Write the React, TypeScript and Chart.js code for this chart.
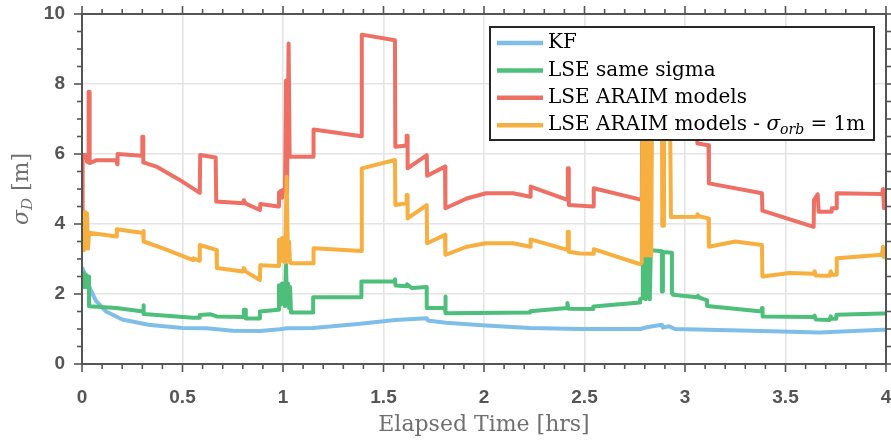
import React, { useEffect, useRef } from 'react';
import { Chart, registerables } from 'chart.js';

Chart.register(...registerables);

// ---- data (elapsed time [hrs], sigma_D [m]) ----
const xTicks = [0, 0.5, 1, 1.5, 2, 2.5, 3, 3.5, 4];
const yTicks = [0, 2, 4, 6, 8, 10];
const seriesNames = ['KF', 'LSE same sigma', 'LSE ARAIM models', 'LSE ARAIM models - '];
const seriesColors = ['#80BEEA', '#4DBF7B', '#EE6F64', '#F7AF40'];

const kf: [number, number][] = [
  [0, 2.76], [0.02, 2.5], [0.04, 2.15], [0.07, 1.8], [0.12, 1.5], [0.2, 1.27], [0.33, 1.12],
  [0.5, 1.03], [0.62, 1.02], [0.75, 0.95], [0.885, 0.94], [0.985, 0.99], [1.02, 1.02],
  [1.15, 1.03], [1.385, 1.15], [1.557, 1.26], [1.715, 1.31], [1.72, 1.24], [1.81, 1.18],
  [2.01, 1.1], [2.23, 1.03], [2.48, 1.0], [2.777, 1.0], [2.81, 1.05], [2.885, 1.12],
  [2.89, 1.04], [2.92, 1.08], [2.95, 1.0], [3.383, 0.94], [3.67, 0.9], [3.98, 0.98], [4.0, 0.98],
];

const lseSame: [number, number][] = [
  [0, 2.5], [0.005, 2.2], [0.01, 2.6], [0.015, 2.2], [0.02, 2.55], [0.025, 2.2], [0.03, 2.5],
  [0.035, 2.5], [0.035, 1.65], [0.171, 1.6], [0.304, 1.5], [0.304, 1.68], [0.308, 1.68],
  [0.308, 1.43], [0.553, 1.32], [0.586, 1.32], [0.586, 1.4], [0.64, 1.42], [0.67, 1.36],
  [0.8, 1.34], [0.805, 1.34], [0.805, 1.55], [0.815, 1.55], [0.815, 1.3], [0.885, 1.3],
  [0.885, 1.5], [0.976, 1.55], [0.98, 1.55], [0.98, 2.25], [0.99, 1.7], [0.995, 2.3],
  [1.0, 1.75], [1.005, 2.3], [1.01, 1.65], [1.015, 2.85], [1.02, 1.7], [1.025, 2.3],
  [1.03, 1.6], [1.035, 2.2], [1.04, 1.47], [1.15, 1.47], [1.15, 1.91], [1.39, 1.91],
  [1.39, 2.36], [1.555, 2.36], [1.557, 2.42], [1.56, 2.24], [1.615, 2.22], [1.617, 2.28],
  [1.64, 2.17], [1.715, 2.2], [1.715, 1.6], [1.806, 1.6], [1.806, 1.93], [1.81, 1.93],
  [1.81, 1.45], [2.23, 1.47], [2.23, 1.51], [2.415, 1.6], [2.415, 1.74], [2.42, 1.58],
  [2.544, 1.57], [2.544, 1.64], [2.777, 1.76], [2.777, 1.86], [2.79, 1.88], [2.79, 3.3],
  [2.795, 1.9], [2.8, 3.3], [2.805, 1.85], [2.81, 3.3], [2.815, 1.9], [2.82, 3.3],
  [2.825, 1.85], [2.83, 3.3], [2.835, 3.25], [2.885, 3.22], [2.885, 2.07], [2.89, 2.07],
  [2.89, 3.2], [2.935, 3.18], [2.935, 2.02], [2.94, 2.02], [2.94, 1.98], [3.06, 1.91],
  [3.065, 1.95], [3.07, 1.9], [3.11, 1.82], [3.11, 1.66], [3.383, 1.5], [3.383, 1.6],
  [3.386, 1.6], [3.386, 1.36], [3.64, 1.34], [3.645, 1.38], [3.65, 1.27], [3.72, 1.26],
  [3.725, 1.36], [3.73, 1.29], [3.753, 1.29], [3.753, 1.41], [3.98, 1.44], [4.0, 1.44],
];

const lseAraim: [number, number][] = [
  [0, 4.3], [0.003, 5.97], [0.02, 5.97], [0.025, 5.78], [0.033, 5.76], [0.033, 7.78],
  [0.038, 7.78], [0.038, 5.74], [0.07, 5.82], [0.17, 5.83], [0.175, 5.71], [0.177, 6.0],
  [0.296, 5.95], [0.3, 5.95], [0.3, 6.49], [0.305, 6.49], [0.305, 5.76], [0.37, 5.64],
  [0.486, 5.26], [0.586, 4.89], [0.588, 5.97], [0.665, 5.9], [0.668, 4.64], [0.8, 4.59],
  [0.805, 4.68], [0.815, 4.58], [0.885, 4.4], [0.887, 4.57], [0.976, 4.5], [0.98, 4.9],
  [0.99, 4.95], [0.995, 4.75], [1.0, 4.97], [1.01, 4.9], [1.015, 8.1], [1.02, 4.9],
  [1.028, 9.16], [1.033, 5.92], [1.15, 5.92], [1.152, 6.7], [1.39, 6.51], [1.392, 9.41],
  [1.557, 9.25], [1.559, 6.21], [1.615, 6.24], [1.615, 6.52], [1.62, 6.52], [1.62, 5.59],
  [1.715, 5.97], [1.717, 5.38], [1.806, 5.64], [1.808, 4.45], [1.914, 4.73], [2.01, 4.88],
  [2.145, 4.88], [2.23, 4.78], [2.232, 5.07], [2.415, 4.69], [2.417, 5.59], [2.422, 5.59],
  [2.422, 4.54], [2.544, 4.5], [2.546, 5.02], [2.785, 4.69], [2.787, 6.9], [3.06, 6.6],
  [3.062, 6.3], [3.117, 6.25], [3.119, 5.16], [3.383, 4.88], [3.385, 4.38], [3.64, 3.92],
  [3.642, 4.69], [3.66, 4.85], [3.665, 4.35], [3.73, 4.35], [3.73, 4.45], [3.753, 4.45],
  [3.755, 4.88], [3.98, 4.86], [3.985, 5.0], [3.99, 4.45], [4.0, 4.5],
];

const lseOrb: [number, number][] = [
  [0, 3.3], [0.005, 4.3], [0.01, 3.25], [0.015, 4.35], [0.02, 3.3], [0.025, 4.3], [0.03, 3.3],
  [0.035, 3.75], [0.171, 3.64], [0.173, 3.85], [0.304, 3.74], [0.304, 3.8], [0.308, 3.8],
  [0.308, 3.5], [0.4, 3.31], [0.553, 2.97], [0.555, 3.02], [0.583, 2.95], [0.586, 3.4],
  [0.669, 3.26], [0.671, 2.74], [0.8, 2.64], [0.805, 2.74], [0.815, 2.64], [0.885, 2.4],
  [0.887, 2.82], [0.976, 2.8], [0.98, 3.55], [0.99, 2.95], [0.995, 3.6], [1.0, 2.95],
  [1.005, 3.6], [1.01, 2.9], [1.018, 5.35], [1.025, 2.95], [1.03, 3.5], [1.035, 2.9],
  [1.04, 2.88], [1.15, 2.88], [1.152, 3.31], [1.39, 3.23], [1.392, 5.59], [1.557, 5.83],
  [1.559, 4.54], [1.615, 4.59], [1.615, 4.83], [1.62, 4.83], [1.62, 4.16], [1.715, 4.54],
  [1.717, 3.45], [1.806, 3.69], [1.808, 3.12], [1.914, 3.35], [2.01, 3.45], [2.145, 3.45],
  [2.23, 3.35], [2.232, 3.56], [2.415, 3.26], [2.417, 3.78], [2.422, 3.78], [2.422, 3.21],
  [2.478, 3.16], [2.544, 3.15], [2.546, 3.28], [2.777, 2.85], [2.785, 2.9], [2.788, 7.0],
  [2.792, 3.1], [2.797, 7.0], [2.802, 3.1], [2.807, 7.0], [2.812, 3.1], [2.817, 7.0],
  [2.822, 3.1], [2.827, 7.0], [2.832, 3.1], [2.836, 7.5], [2.885, 7.5], [2.887, 3.95],
  [2.895, 3.95], [2.897, 7.5], [2.925, 7.5], [2.93, 4.2], [3.06, 4.21], [3.062, 4.28],
  [3.07, 4.22], [3.117, 4.16], [3.119, 3.35], [3.25, 3.5], [3.383, 3.4], [3.385, 2.5],
  [3.52, 2.6], [3.64, 2.58], [3.645, 2.65], [3.65, 2.53], [3.72, 2.52], [3.725, 2.65],
  [3.73, 2.55], [3.753, 2.55], [3.755, 3.02], [3.98, 3.12], [3.985, 3.35], [3.99, 3.05],
  [4.0, 3.12],
];

const allSeries = [kf, lseSame, lseAraim, lseOrb];

const AXIS = '#555555';
const TITLE = '#707070';
const SERIF = '"DejaVu Serif", "Liberation Serif", serif';
const SANS = '"Liberation Sans", Arial, sans-serif';

const zeroPad = (sc: any) => {
  sc.paddingTop = 0;
  sc.paddingBottom = 0;
  sc.paddingLeft = 0;
  sc.paddingRight = 0;
};

const framePlugin = {
  id: 'matlabFrame',
  afterDatasetsDraw(chart: any) {
    const { ctx, chartArea: a, scales } = chart;
    const x = scales.x;
    const y = scales.y;
    ctx.save();
    ctx.strokeStyle = AXIS;
    ctx.lineWidth = 2;
    ctx.strokeRect(a.left, a.top, a.right - a.left, a.bottom - a.top);
    ctx.lineWidth = 1.6;
    const seg = (x1: number, y1: number, x2: number, y2: number) => {
      ctx.beginPath();
      ctx.moveTo(x1, y1);
      ctx.lineTo(x2, y2);
      ctx.stroke();
    };
    for (let i = 0; i <= 40; i++) {
      const px = x.getPixelForValue(i / 10);
      const len = i % 5 === 0 ? 8 : 5;
      seg(px, a.bottom, px, a.bottom + len);
      seg(px, a.top, px, a.top - len);
    }
    for (let i = 0; i <= 20; i++) {
      const py = y.getPixelForValue(i / 2);
      const len = i % 4 === 0 ? 8 : 5;
      seg(a.left, py, a.left - len, py);
      seg(a.right, py, a.right + len, py);
    }

    // legend
    const lx = 490, ly = 27, lw = 384, lh = 113;
    ctx.fillStyle = '#ffffff';
    ctx.fillRect(lx, ly, lw, lh);
    ctx.strokeStyle = '#262626';
    ctx.lineWidth = 2;
    ctx.strokeRect(lx, ly, lw, lh);
    ctx.textBaseline = 'middle';
    ctx.textAlign = 'left';
    for (let i = 0; i < seriesNames.length; i++) {
      const cy = ly + 16 + i * 27.4;
      ctx.strokeStyle = seriesColors[i];
      ctx.lineWidth = 4.5;
      seg(497, cy, 543, cy);
      ctx.fillStyle = '#000000';
      ctx.font = `20px ${SERIF}`;
      let tx = 548;
      ctx.fillText(seriesNames[i], tx, cy);
      if (i === 3) {
        tx += ctx.measureText(seriesNames[i]).width;
        ctx.font = `italic 20px ${SERIF}`;
        ctx.fillText('σ', tx, cy);
        tx += ctx.measureText('σ').width;
        ctx.font = `italic 14px ${SERIF}`;
        ctx.fillText('orb', tx, cy + 5);
        tx += ctx.measureText('orb').width;
        ctx.font = `20px ${SERIF}`;
        ctx.fillText(' = 1m', tx, cy);
      }
    }

    // y-axis title: sigma_D [m]
    ctx.save();
    ctx.translate(22, 189);
    ctx.rotate(-Math.PI / 2);
    ctx.fillStyle = TITLE;
    ctx.font = `italic 22px ${SERIF}`;
    const w1 = ctx.measureText('σ').width;
    ctx.font = `italic 15px ${SERIF}`;
    const w2 = ctx.measureText('D').width;
    ctx.font = `22px ${SERIF}`;
    const w3 = ctx.measureText(' [m]').width;
    let sx = -(w1 + w2 + w3) / 2;
    ctx.font = `italic 22px ${SERIF}`;
    ctx.fillText('σ', sx, 0);
    sx += w1;
    ctx.font = `italic 15px ${SERIF}`;
    ctx.fillText('D', sx, 6);
    sx += w2;
    ctx.font = `22px ${SERIF}`;
    ctx.fillText(' [m]', sx, 0);
    ctx.restore();

    ctx.restore();
  },
};

export default function App() {
  const ref = useRef<HTMLCanvasElement | null>(null);
  useEffect(() => {
    if (!ref.current) return;
    const orders = [3, 2, 1, 0];
    const chart = new Chart(ref.current, {
      type: 'line',
      data: {
        datasets: allSeries.map((s, i) => ({
          label: seriesNames[i],
          data: s.map(([t, v]) => ({ x: t, y: v })),
          borderColor: seriesColors[i],
          backgroundColor: seriesColors[i],
          borderWidth: 4,
          pointRadius: 0,
          tension: 0,
          fill: false,
          borderJoinStyle: 'round' as const,
          order: orders[i],
        })),
      },
      options: {
        responsive: false,
        animation: false,
        events: [],
        layout: { padding: { top: 14, right: 5, left: 0, bottom: 0 } },
        plugins: { legend: { display: false }, tooltip: { enabled: false } },
        scales: {
          x: {
            type: 'linear',
            min: 0,
            max: 4,
            afterBuildTicks: (sc: any) => {
              sc.ticks = xTicks.map((v) => ({ value: v }));
            },
            afterFit: (sc: any) => {
              sc.height = 78;
              zeroPad(sc);
            },
            ticks: {
              padding: 22,
              color: AXIS,
              font: { family: SANS, size: 19, weight: 'bold' },
              maxRotation: 0,
              callback: (v: any) => String(v),
            },
            grid: { color: '#e4e4e4', lineWidth: 1.6, drawTicks: false },
            border: { display: false },
            title: {
              display: true,
              text: 'Elapsed Time [hrs]',
              color: TITLE,
              font: { family: SERIF, size: 22, weight: 'normal' },
              padding: { top: 0, bottom: 4 },
            },
          },
          y: {
            type: 'linear',
            min: 0,
            max: 10,
            afterBuildTicks: (sc: any) => {
              sc.ticks = yTicks.map((v) => ({ value: v }));
            },
            afterFit: (sc: any) => {
              sc.width = 82;
              zeroPad(sc);
            },
            ticks: {
              padding: 17,
              color: AXIS,
              font: { family: SANS, size: 19, weight: 'bold' },
              callback: (v: any) => String(v),
            },
            grid: { color: '#e4e4e4', lineWidth: 1.6, drawTicks: false },
            border: { display: false },
          },
        },
      },
      plugins: [framePlugin],
    } as any);
    return () => chart.destroy();
  }, []);
  return (
    <div style={{ position: 'absolute', left: 0, top: 0, width: 891, height: 442, background: '#fff' }}>
      <canvas ref={ref} width={891} height={442} style={{ display: 'block' }} />
    </div>
  );
}
